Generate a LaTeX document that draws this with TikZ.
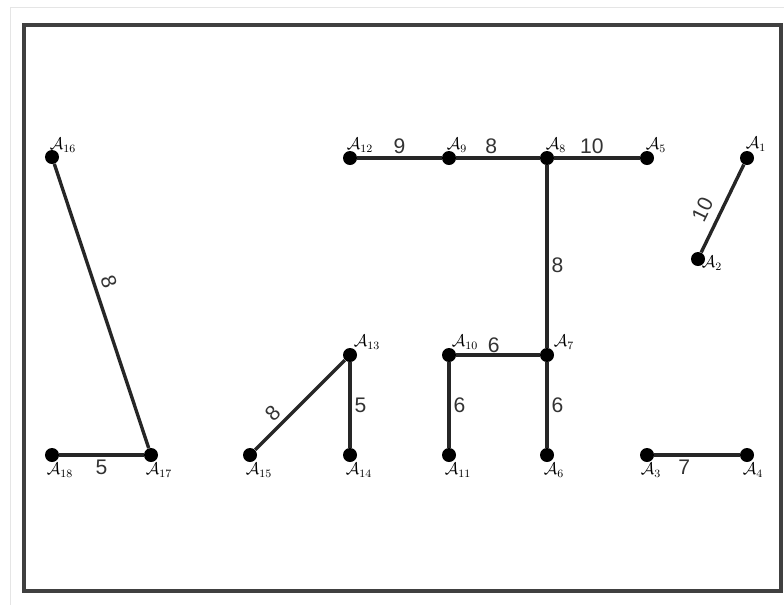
\documentclass[tikz,border=0pt]{standalone}
\usepackage{fontspec}
\setsansfont{Liberation Sans}
\usepackage{amsmath}
\usepackage{xcolor}
\usepackage{tikz}

\begin{document}
\begin{tikzpicture}[
    x=0.025cm, y=-0.025cm,
    dot/.style={circle, fill=black, inner sep=0pt, minimum size=3.5mm},
    edge/.style={line width=2.4pt, draw=black!85},
    len/.style={font=\sffamily\fontsize{15}{18}\selectfont, text=black!80, inner sep=2pt},
    tag/.style={font=\fontsize{12}{14}\selectfont, inner sep=0pt}
]
\useasboundingbox (0,0) rectangle (784,606);
\draw[black!10, line width=0.5pt] (10,7) -- (784,7);
\draw[black!10, line width=0.5pt] (10,7) -- (10,605);
\draw[line width=2.6pt, draw=black!75] (24,25) rectangle (781,591);

% vertices
\node[dot] (a1) at (747,158) {};
\node[dot] (a2) at (698,259) {};
\node[dot] (a3) at (647,455) {};
\node[dot] (a4) at (747,455) {};
\node[dot] (a5) at (647,158) {};
\node[dot] (a6) at (547,455) {};
\node[dot] (a7) at (547,355) {};
\node[dot] (a8) at (547,158) {};
\node[dot] (a9) at (449,158) {};
\node[dot] (a10) at (449,355) {};
\node[dot] (a11) at (449,455) {};
\node[dot] (a12) at (350,158) {};
\node[dot] (a13) at (350,355) {};
\node[dot] (a14) at (350,455) {};
\node[dot] (a15) at (250,455) {};
\node[dot] (a16) at (52,157) {};
\node[dot] (a17) at (151,455) {};
\node[dot] (a18) at (52,455) {};

% vertex names
\node[tag] (t1) at (756,144) {$\mathcal{A}_{1}$};
\node[tag] (t2) at (712,263) {$\mathcal{A}_{2}$};
\node[tag] (t3) at (651,470) {$\mathcal{A}_{3}$};
\node[tag] (t4) at (753,470) {$\mathcal{A}_{4}$};
\node[tag] (t5) at (656,145) {$\mathcal{A}_{5}$};
\node[tag] (t6) at (554,470) {$\mathcal{A}_{6}$};
\node[tag] (t7) at (564,342) {$\mathcal{A}_{7}$};
\node[tag] (t8) at (556,145) {$\mathcal{A}_{8}$};
\node[tag] (t9) at (457,145) {$\mathcal{A}_{9}$};
\node[tag] (t10) at (465,342) {$\mathcal{A}_{10}$};
\node[tag] (t11) at (458,470) {$\mathcal{A}_{11}$};
\node[tag] (t12) at (360,145) {$\mathcal{A}_{12}$};
\node[tag] (t13) at (367,342) {$\mathcal{A}_{13}$};
\node[tag] (t14) at (359,470) {$\mathcal{A}_{14}$};
\node[tag] (t15) at (259,470) {$\mathcal{A}_{15}$};
\node[tag] (t16) at (63,145) {$\mathcal{A}_{16}$};
\node[tag] (t17) at (159,470) {$\mathcal{A}_{17}$};
\node[tag] (t18) at (60,470) {$\mathcal{A}_{18}$};

% edges
\draw[edge] (a16) -- node[len, pos=0.43, sloped, above, inner sep=4pt] (e1) {8} (a17);
\draw[edge] (a18) -- node[len, pos=0.5, below] (e2) {5} (a17);
\draw[edge] (a15) -- node[len, pos=0.3, sloped, above, inner sep=3pt] (e3) {8} (a13);
\draw[edge] (a13) -- node[len, right] (e4) {5} (a14);
\draw[edge] (a12) -- node[len, above] (e5) {9} (a9);
\draw[edge] (a9) -- node[len, pos=0.42, above] (e6) {8} (a8);
\draw[edge] (a8) -- node[len, pos=0.44, above] (e7) {10} (a5);
\draw[edge] (a8) -- node[len, pos=0.55, right] (e8) {8} (a7);
\draw[edge] (a10) -- node[len, pos=0.45, above, inner sep=0.5pt] (e9) {6} (a7);
\draw[edge] (a10) -- node[len, right] (e10) {6} (a11);
\draw[edge] (a7) -- node[len, right] (e11) {6} (a6);
\draw[edge] (a3) -- node[len, pos=0.35, below] (e12) {7} (a4);
\draw[edge] (a2) -- node[len, pos=0.4, sloped, above, inner sep=6pt] (e13) {10} (a1);
\end{tikzpicture}
\end{document}
